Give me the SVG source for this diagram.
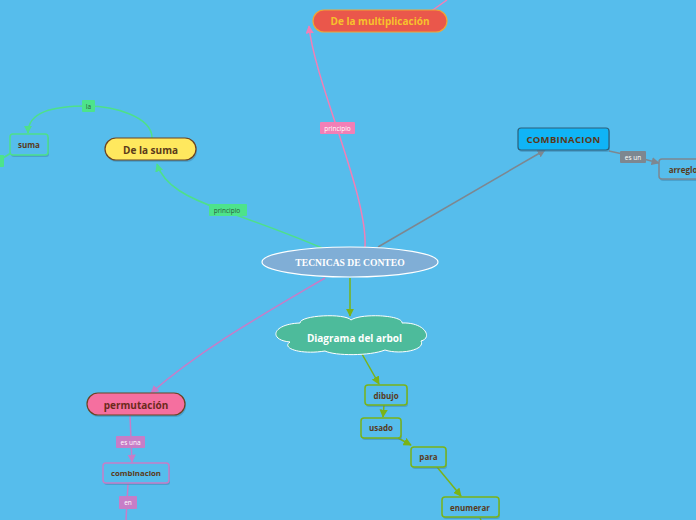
<svg xmlns="http://www.w3.org/2000/svg" width="696" height="520" viewBox="0 0 696 520">
<defs>
<marker id="aG" viewBox="0 0 10 10" refX="9" refY="5" markerWidth="5.5" markerHeight="5.5" orient="auto"><path d="M0,0 L10,5 L0,10 Z" fill="#4ee08a"/></marker>
<marker id="aP" viewBox="0 0 10 10" refX="9" refY="5" markerWidth="5.5" markerHeight="5.5" orient="auto"><path d="M0,0 L10,5 L0,10 Z" fill="#f27fb6"/></marker>
<marker id="aY" viewBox="0 0 10 10" refX="9" refY="5" markerWidth="5.5" markerHeight="5.5" orient="auto"><path d="M0,0 L10,5 L0,10 Z" fill="#7ab317"/></marker>
<marker id="aV" viewBox="0 0 10 10" refX="9" refY="5" markerWidth="5.5" markerHeight="5.5" orient="auto"><path d="M0,0 L10,5 L0,10 Z" fill="#c77dc7"/></marker>
<marker id="aS" viewBox="0 0 10 10" refX="9" refY="5" markerWidth="5.5" markerHeight="5.5" orient="auto"><path d="M0,0 L10,5 L0,10 Z" fill="#7d8790"/></marker>
</defs>
<style>
.t{font-family:"Open Sans","DejaVu Sans",sans-serif;font-weight:bold;text-anchor:middle;dominant-baseline:central}
.s{font-family:"Open Sans","DejaVu Sans",sans-serif;text-anchor:middle;dominant-baseline:central;font-size:6.5px}
.c{fill:none;stroke-width:1.5}
.box{fill:#56bdec;stroke-width:1.5}
.sh{fill:#3a7fa8;opacity:0.45}
</style>
<rect width="696" height="520" fill="#56bdec"/>
<g id="connectors">
<path class="c" stroke="#f27fb6" d="M430,12 L447,0"/>
<path class="c" stroke="#f27fb6" d="M365,247 C368,195 314,80 309,26" marker-end="url(#aP)"/>
<path class="c" stroke="#4ee08a" d="M322,248 C285,232 250,220 222,210 C188,198 164,186 157,164" marker-end="url(#aG)"/>
<path class="c" stroke="#4ee08a" d="M152,138 C152,116 112,106 88,106 C52,106 28,112 28,133" marker-end="url(#aG)"/>
<path class="c" stroke="#4ee08a" d="M11,153 L3,158"/>
<path class="c" stroke="#7d8790" d="M378,247 L545,150" marker-end="url(#aS)"/>
<path class="c" stroke="#7d8790" d="M609,151 L632,156 L659,163" marker-end="url(#aS)"/>
<path class="c" stroke="#7ab317" d="M350,278 L350,316" marker-end="url(#aY)"/>
<path class="c" stroke="#7ab317" d="M362,354 L379,384" marker-end="url(#aY)"/>
<path class="c" stroke="#7ab317" d="M384,405 L383,417" marker-end="url(#aY)"/>
<path class="c" stroke="#7ab317" d="M398,438 L411,445" marker-end="url(#aY)"/>
<path class="c" stroke="#7ab317" d="M437,467 L461,496" marker-end="url(#aY)"/>
<path class="c" stroke="#7ab317" d="M480,518 L481,520"/>
<path class="c" stroke="#c77dc7" d="M325,278 C262,315 200,350 151,393" marker-end="url(#aV)"/>
<path class="c" stroke="#c77dc7" d="M130,415 L131,440 L132,462" marker-end="url(#aV)"/>
<path class="c" stroke="#c77dc7" d="M128,484 L127,502 L126,520"/>
</g>
<g id="lbl-principio-mult"><rect x="320" y="122" width="35" height="12" rx="1" fill="#f27fb6"/><text class="s" x="337.5" y="128" fill="#ffffff">principio</text></g>
<g id="lbl-principio-suma"><rect x="209" y="204" width="38" height="12" rx="1" fill="#4de38b"/><text class="s" x="227" y="210" fill="#2c5a3c">principio</text></g>
<g id="lbl-la"><rect x="82" y="100" width="13" height="12" rx="1" fill="#4de38b"/><text class="s" x="88.5" y="106" fill="#2c5a3c">la</text></g>
<g id="lbl-left"><rect x="-4" y="155" width="8" height="12" rx="1" fill="#4de38b"/></g>
<g id="lbl-esun"><rect x="620" y="151" width="26" height="12" rx="1" fill="#7d8790"/><text class="s" x="633" y="157" fill="#ffffff">es un</text></g>
<g id="lbl-esuna"><rect x="116" y="436" width="29" height="12" rx="1" fill="#c77dc7"/><text class="s" x="130.5" y="442" fill="#ffffff">es una</text></g>
<g id="lbl-en"><rect x="119" y="496" width="18" height="13" rx="1" fill="#c77dc7"/><text class="s" x="128" y="502.5" fill="#ffffff">en</text></g>
<g id="n-center"><ellipse cx="350" cy="262" rx="88" ry="15" fill="#80aed6" stroke="#ffffff" stroke-width="1.2"/><text x="350" y="262.5" font-family="'Liberation Serif',serif" font-weight="bold" font-size="9.6" fill="#ffffff" text-anchor="middle" dominant-baseline="central">TECNICAS DE CONTEO</text></g>
<g id="n-mult"><rect x="313" y="10" width="134" height="22" rx="11" fill="#ea574b" stroke="#f0a534" stroke-width="1.2"/><text class="t" x="380" y="21" font-size="10" fill="#f7c22c">De la multiplicación</text></g>
<g id="n-suma-main"><rect x="106" y="140" width="91" height="22" rx="11" class="sh"/><rect x="105" y="138" width="91" height="22" rx="11" fill="#ffe85e" stroke="#6b4423" stroke-width="1.2"/><text class="t" x="150.5" y="149.5" font-size="10" fill="#5a3a1a">De la suma</text></g>
<g id="n-suma"><rect x="11" y="136" width="38" height="21" rx="3" class="sh"/><rect x="10" y="134" width="38" height="21" rx="3" class="box" stroke="#4ee08a"/><text class="t" x="29" y="144.5" font-size="8" fill="#5a3a1a">suma</text></g>
<g id="n-comb"><rect x="519" y="130" width="91" height="22" rx="3" class="sh"/><rect x="518" y="128" width="91" height="22" rx="3" fill="#10b4f6" stroke="#2d5f7a" stroke-width="1.2"/><text class="t" x="563.5" y="139.5" font-size="9.5" letter-spacing="0.3" fill="#5a3a1a">COMBINACION</text></g>
<g id="n-arreglo"><rect x="660" y="161" width="44" height="20" rx="3" class="sh"/><rect x="659" y="159" width="44" height="20" rx="3" class="box" stroke="#7d8790"/><text class="t" x="683" y="169.5" font-size="8" fill="#5a3a1a">arreglo</text></g>
<g id="n-arbol"><path d="M300,323 C300,315 345,313 351,320 C361,313 403,315 402,323 C425,322 433,338 421,341 C426,350 400,355 385,350 C370,356 335,356 325,351 C300,355 281,348 290,342 C268,340 272,324 300,323 Z" fill="#4dbb9b" stroke="#ffffff" stroke-width="1"/><text class="t" x="354.5" y="337.5" font-size="10" fill="#ffffff">Diagrama del arbol</text></g>
<g id="n-dibujo"><rect x="366" y="387" width="42" height="20" rx="3" class="sh"/><rect x="365" y="385" width="42" height="20" rx="3" class="box" stroke="#7ab317"/><text class="t" x="386" y="395" font-size="8" fill="#5a3a1a">dibujo</text></g>
<g id="n-usado"><rect x="362" y="420" width="40" height="20" rx="3" class="sh"/><rect x="361" y="418" width="40" height="20" rx="3" class="box" stroke="#7ab317"/><text class="t" x="381" y="427.5" font-size="8" fill="#5a3a1a">usado</text></g>
<g id="n-para"><rect x="412" y="449" width="35" height="20" rx="3" class="sh"/><rect x="411" y="447" width="35" height="20" rx="3" class="box" stroke="#7ab317"/><text class="t" x="428.5" y="456.5" font-size="8" fill="#5a3a1a">para</text></g>
<g id="n-enumerar"><rect x="443" y="499" width="57" height="20" rx="3" class="sh"/><rect x="442" y="497" width="57" height="20" rx="3" class="box" stroke="#7ab317"/><text class="t" x="470" y="507" font-size="8" fill="#5a3a1a">enumerar</text></g>
<g id="n-perm"><rect x="88" y="395" width="98" height="22" rx="11" class="sh"/><rect x="87" y="393" width="98" height="22" rx="11" fill="#f56f9f" stroke="#6b4423" stroke-width="1.2"/><text class="t" x="136" y="404.5" font-size="10" fill="#6b2a1a">permutación</text></g>
<g id="n-combinacion"><rect x="104" y="465" width="66" height="20" rx="3" class="sh"/><rect x="103" y="463" width="66" height="20" rx="3" class="box" stroke="#c77dc7"/><text class="t" x="136" y="473" font-size="7.8" fill="#5a3a1a">combinacion</text></g>
</svg>
